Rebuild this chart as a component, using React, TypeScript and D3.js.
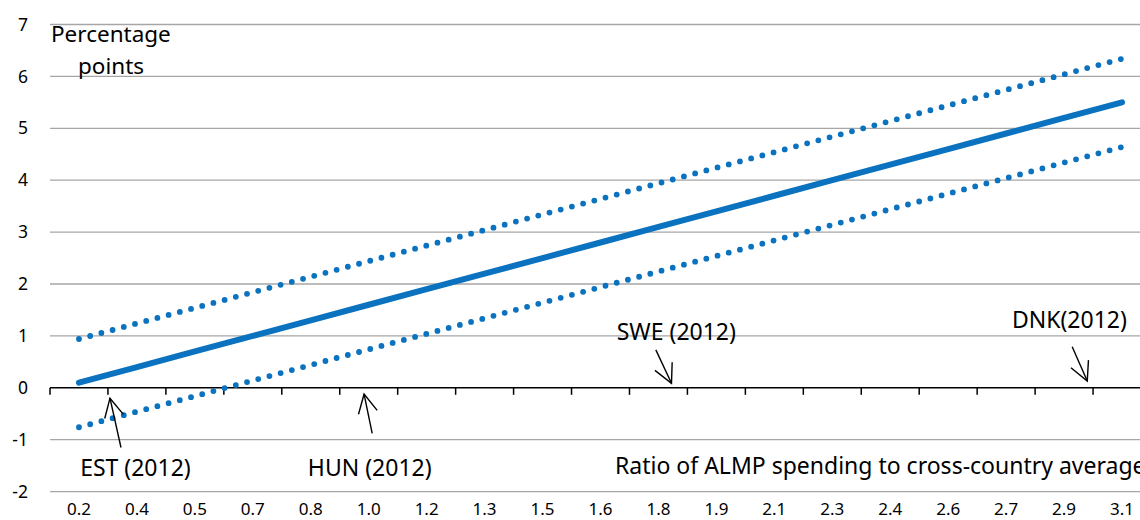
import React from "react";
import * as d3 from "d3";

// ---- data ----
const categories = ["0.2","0.4","0.5","0.7","0.8","1.0","1.2","1.3","1.5","1.6","1.8","1.9","2.1","2.3","2.4","2.6","2.7","2.9","3.1"];
const estimate = [0.10,0.40,0.70,1.00,1.30,1.60,1.90,2.20,2.50,2.80,3.10,3.40,3.70,4.00,4.30,4.60,4.90,5.20,5.50];
const upperBound = [0.94,1.24,1.54,1.84,2.14,2.44,2.74,3.04,3.34,3.64,3.94,4.24,4.54,4.84,5.14,5.44,5.74,6.04,6.34];
const lowerBound = [-0.76,-0.46,-0.16,0.14,0.44,0.74,1.04,1.34,1.64,1.94,2.24,2.54,2.84,3.14,3.44,3.74,4.04,4.34,4.64];
const yTicks = [-2,-1,0,1,2,3,4,5,6,7];

// annotations in data units (category index, value)
const annLabels = ["EST (2012)","HUN (2012)","SWE (2012)","DNK(2012)"];
const annTextX = [0.02, 3.95, 9.28, 16.1];
const annTextY = [-1.70, -1.70, 0.92, 1.16];
const annTailX = [0.725, 5.06, 9.955, 17.14];
const annTailY = [-1.15, -0.88, 0.73, 0.79];
const annTipX = [0.535, 4.92, 10.225, 17.40];
const annTipY = [-0.20, -0.12, 0.087, 0.13];

const W = 1140, H = 520;
const FONT = "'Noto Sans', 'Open Sans', sans-serif";
const BLUE = "#0A72BF";

export default function App() {
  const x = d3.scaleBand<string>().domain(categories).range([50, 1151]).paddingInner(0).paddingOuter(0);
  const y = d3.scaleLinear().domain([-2, 7]).range([491.6, 24.5]);
  const step = x.step();
  const cx = (i: number) => (x.range()[0] as number) + (i + 0.5) * step;

  const line = d3.line<number>().x((_, i) => cx(i)).y((d) => y(d));

  const boundaries = d3.range(categories.length + 1).map((i) => (x.range()[0] as number) + i * step);

  const arrowHead = (tx: number, ty: number, sx: number, sy: number) => {
    const ang = Math.atan2(sy - ty, sx - tx);
    const len = 21, half = (27 * Math.PI) / 180;
    const p1 = [tx + len * Math.cos(ang + half), ty + len * Math.sin(ang + half)];
    const p2 = [tx + len * Math.cos(ang - half), ty + len * Math.sin(ang - half)];
    return `M${p1[0]},${p1[1]}L${tx},${ty}L${p2[0]},${p2[1]}`;
  };

  return (
    <svg width={W} height={H} style={{ position: "absolute", left: 0, top: 0, background: "#fff" }} fontFamily={FONT}>
      {/* gridlines */}
      {yTicks.filter((t) => t !== 0).map((t) => (
        <line key={t} x1={50} x2={1151} y1={y(t)} y2={y(t)} stroke="#a6a6a6" strokeWidth={1.3} />
      ))}
      {/* y tick labels */}
      {yTicks.map((t) => (
        <text key={"yl" + t} x={28} y={y(t)} dy="0.35em" textAnchor="end" fontSize={17.5} fill="#000">{t}</text>
      ))}
      {/* zero axis */}
      <line x1={50} x2={1151} y1={y(0)} y2={y(0)} stroke="#000" strokeWidth={1.6} />
      {boundaries.map((b, i) => (
        <line key={"tk" + i} x1={b} x2={b} y1={y(0)} y2={y(0) + 7} stroke="#000" strokeWidth={1.5} />
      ))}
      {/* x tick labels */}
      {categories.map((c) => (
        <text key={"xl" + c} x={(x(c) as number) + step / 2} y={515} textAnchor="middle" fontSize={17} fill="#000">{c}</text>
      ))}
      {/* lines */}
      <path d={line(upperBound) || ""} fill="none" stroke={BLUE} strokeWidth={5.8} strokeLinecap="round" strokeDasharray="0 11.6" />
      <path d={line(lowerBound) || ""} fill="none" stroke={BLUE} strokeWidth={5.8} strokeLinecap="round" strokeDasharray="0 11.6" />
      <path d={line(estimate) || ""} fill="none" stroke={BLUE} strokeWidth={6} strokeLinecap="round" />
      {/* annotations */}
      {annLabels.map((lab, i) => {
        const tx = cx(annTipX[i]), ty = y(annTipY[i]);
        const sx = cx(annTailX[i]), sy = y(annTailY[i]);
        return (
          <g key={lab}>
            <text x={cx(annTextX[i])} y={y(annTextY[i])} fontSize={23} fill="#000">{lab}</text>
            <line x1={sx} y1={sy} x2={tx} y2={ty} stroke="#000" strokeWidth={1.4} />
            <path d={arrowHead(tx, ty, sx, sy)} fill="none" stroke="#000" strokeWidth={1.4} />
          </g>
        );
      })}
      {/* axis titles */}
      <text x={51} y={41.5} fontSize={22.5} fill="#000">Percentage</text>
      <text x={78} y={74} fontSize={22.5} fill="#000">points</text>
      <text x={615} y={474} fontSize={23} fill="#000">Ratio of ALMP spending to cross-country average</text>
    </svg>
  );
}
